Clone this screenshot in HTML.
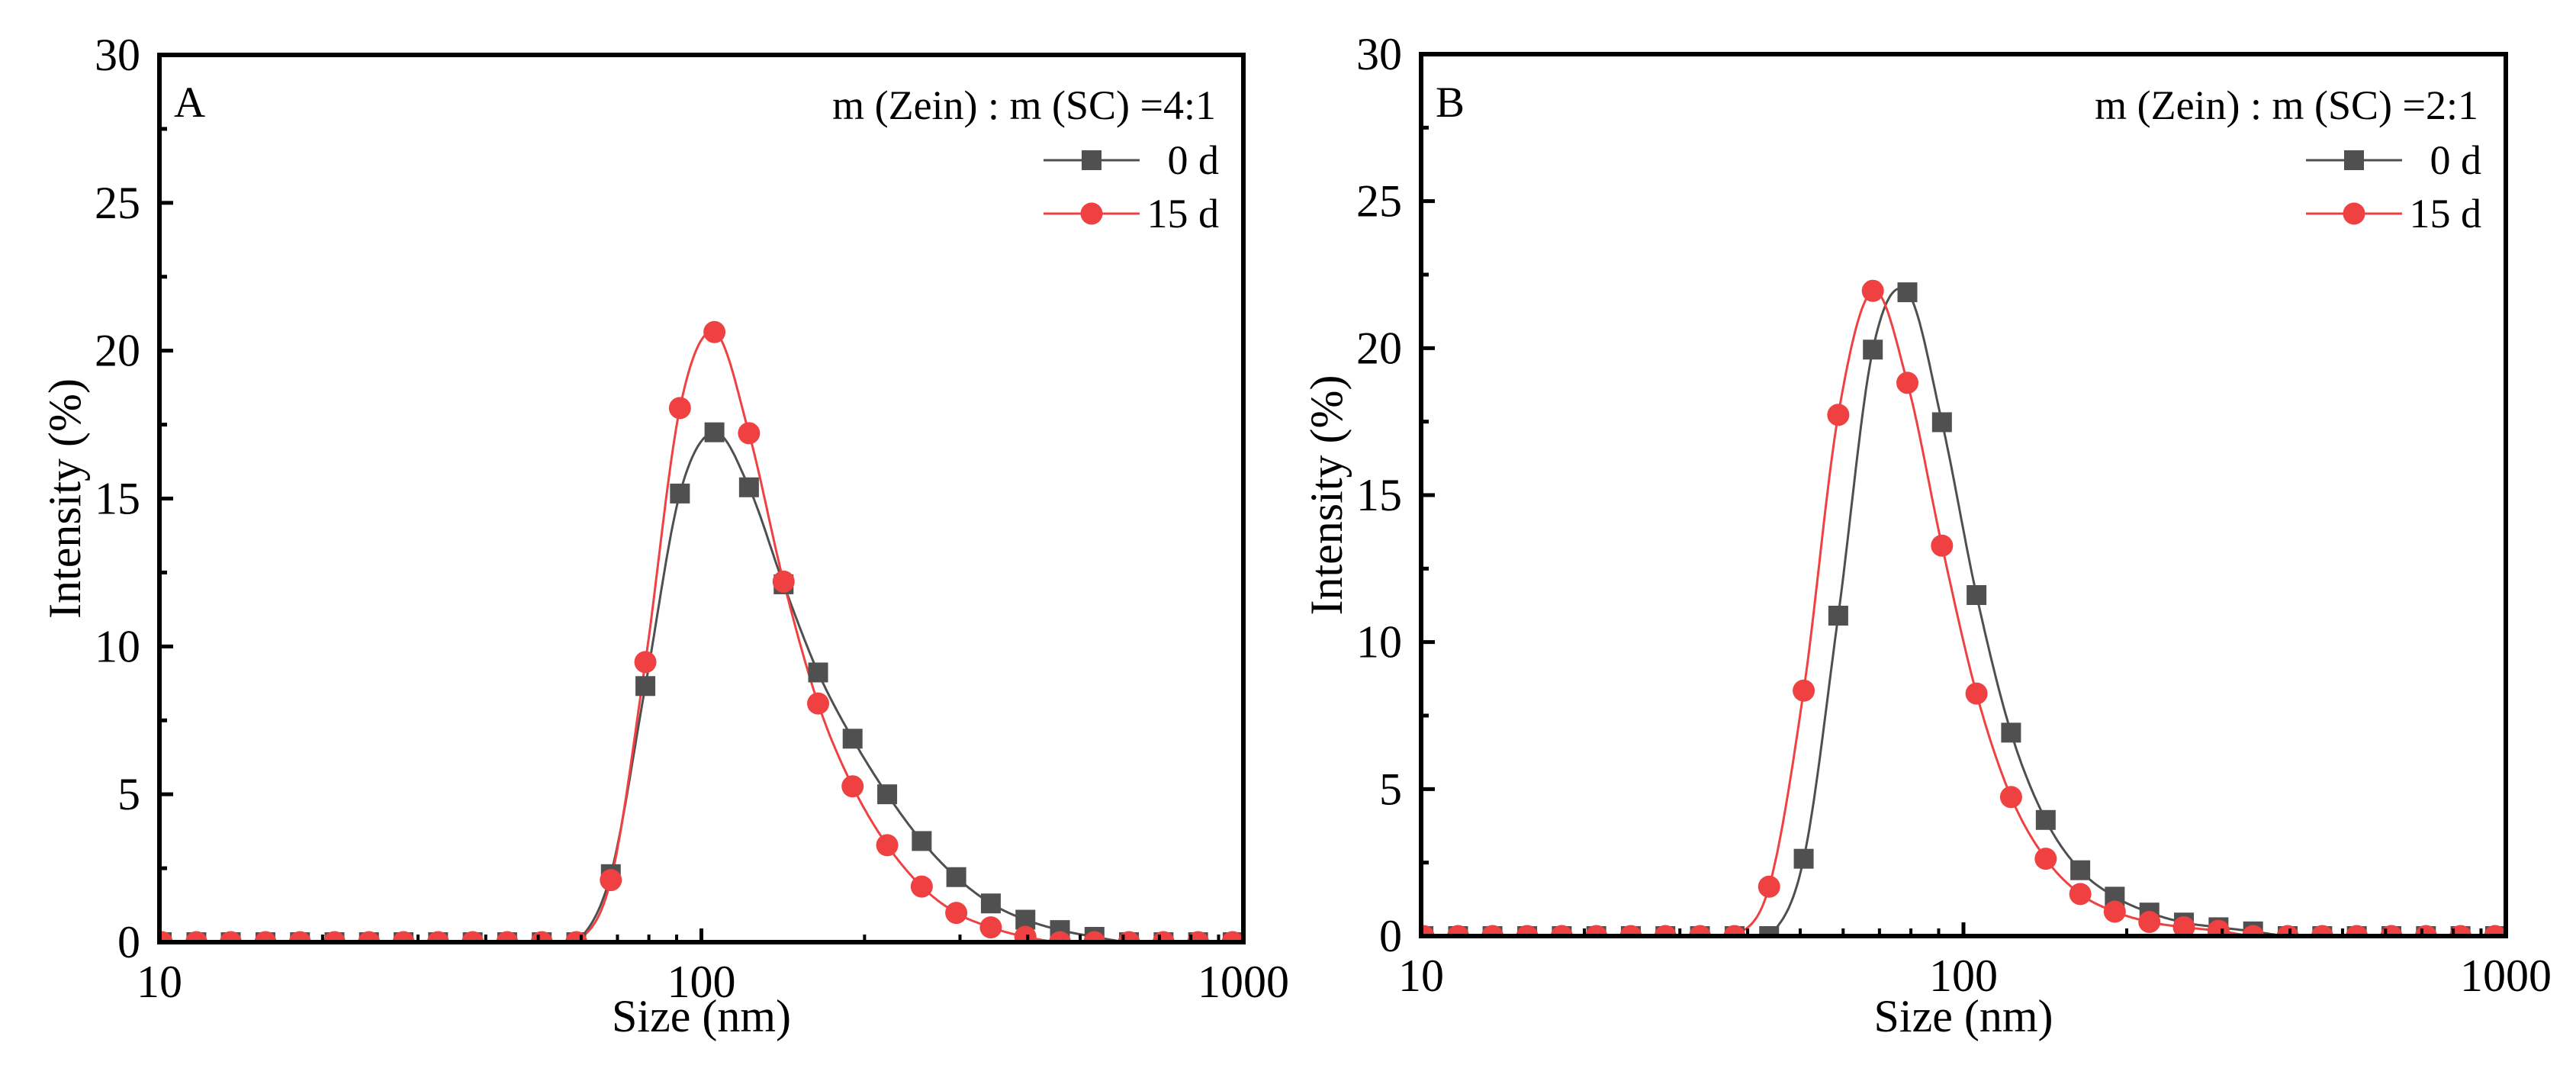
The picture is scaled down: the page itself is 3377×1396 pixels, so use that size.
<!DOCTYPE html>
<html><head><meta charset="utf-8"><style>
html,body{margin:0;padding:0;background:#fff;}
svg{display:block;font-family:"Liberation Serif","Times New Roman",serif;}
</style></head><body>
<svg id="fig" width="3377" height="1396" viewBox="0 0 3377 1396" xmlns="http://www.w3.org/2000/svg"></svg>
<script>
const sizes = [10.1,11.7,13.54,15.69,18.17,21.04,24.36,28.21,32.67,37.84,43.82,50.75,58.77,68.06,78.82,91.28,105.7,122.4,141.8,164.2,190.1,220.2,255.0,295.3,342.0,396.1,458.7,531.2,615.1,712.4,825.0,955.4];
const a0d  = [0,0,0,0,0,0,0,0,0,0,0,0,0,2.3,8.66,15.17,17.24,15.38,12.1,9.12,6.88,5.0,3.42,2.2,1.31,0.76,0.41,0.18,0,0,0,0];
const a15d = [0,0,0,0,0,0,0,0,0,0,0,0,0,2.1,9.47,18.06,20.63,17.21,12.19,8.07,5.27,3.28,1.88,0.99,0.5,0.18,0,0,0,0,0,0];
const b0d  = [0,0,0,0,0,0,0,0,0,0,0,2.63,10.9,19.95,21.9,17.48,11.6,6.92,3.95,2.24,1.34,0.8,0.46,0.3,0.16,0,0,0,0,0,0,0];
const b15d = [0,0,0,0,0,0,0,0,0,0,1.68,8.35,17.73,21.95,18.82,13.28,8.25,4.73,2.63,1.43,0.83,0.48,0.3,0.18,0,0,0,0,0,0,0,0];
const yTicks = [0,5,10,15,20,25,30];
const xTicks = [10,100,1000];

const NS="http://www.w3.org/2000/svg";
const svg=document.getElementById('fig');
function el(tag,attrs,parent){const e=document.createElementNS(NS,tag);for(const k in attrs)e.setAttribute(k,attrs[k]);(parent||svg).appendChild(e);return e;}

function panel(id,L,R,T,B,letter,ratio,s0,s15){
  const g=el('g',{});
  
  
  const xs=v=>L+(Math.log10(v)-1)/2*(R-L);
  const ys=v=>B-v/30*(B-T);
  const cp=el('clipPath',{id:'clip'+id},g);
  el('rect',{x:L,y:T,width:R-L,height:B-T},cp);
  // curves
  function curve(vals,color,name){
    const pts=sizes.map((s,i)=>[Math.log10(s),vals[i]]);
    let d='';
    for(let i=0;i<pts.length-1;i++){
      const p0=pts[Math.max(0,i-1)],p1=pts[i],p2=pts[i+1],p3=pts[Math.min(pts.length-1,i+2)];
      for(let t=0;t<=1;t+=0.05){
        const t2=t*t,t3=t2*t;
        const f=(a,b,c,dd)=>0.5*((2*b)+(-a+c)*t+(2*a-5*b+4*c-dd)*t2+(-a+3*b-3*c+dd)*t3);
        const lx=f(p0[0],p1[0],p2[0],p3[0]);let v=f(p0[1],p1[1],p2[1],p3[1]);if(v<0)v=0;
        const X=L+(lx-1)/2*(R-L),Y=ys(v);
        d+=(d?'L':'M')+X.toFixed(1)+','+Y.toFixed(1);
      }
    }
    const p=el('path',{d:d,fill:'none',stroke:color,'stroke-width':3,'clip-path':'url(#clip'+id+')'},g);
    
    
  }
  curve(s0,'#4f4f4f','series-0d');
  curve(s15,'#ef4141','series-15d');
  const mg=el('g',{'clip-path':'url(#clip'+id+')'},g);
  sizes.forEach((s,i)=>{
    const r=el('rect',{x:xs(s)-13,y:ys(s0[i])-13,width:26,height:26,fill:'#505050'},mg);
    
    
  });
  sizes.forEach((s,i)=>{
    const c=el('circle',{cx:xs(s),cy:ys(s15[i]),r:14.5,fill:'#ef4141'},mg);
    
    
  });
  // frame
  const fr=el('rect',{x:L,y:T,width:R-L,height:B-T,fill:'none',stroke:'#000','stroke-width':6},g);
  
  
  // y ticks
  for(let v=0;v<=30;v+=2.5){
    const major=v%5===0;
    el('line',{x1:L,x2:L+(major?18:10),y1:ys(v),y2:ys(v),stroke:'#000','stroke-width':5},g);
  }
  yTicks.forEach(v=>{
    const t=el('text',{x:L-25,y:ys(v)+20,'text-anchor':'end','font-size':60},g);
    t.textContent=v;
    
    
  });
  // x ticks
  for(let dec=10;dec<1000;dec*=10){
    for(let m=1;m<10;m++){
      const v=dec*m;const X=xs(v);
      if(m===1){ if(v>10) el('line',{x1:X,x2:X,y1:B,y2:B-18,stroke:'#000','stroke-width':5},g);}
      else el('line',{x1:X,x2:X,y1:B,y2:B-10,stroke:'#000','stroke-width':4},g);
    }
  }
  xTicks.forEach(v=>{
    const t=el('text',{x:xs(v),y:B+72,'text-anchor':'middle','font-size':60},g);
    t.textContent=v;
    
    
  });
  const xt=el('text',{x:(L+R)/2,y:1352,'text-anchor':'middle','font-size':60},g);
  xt.textContent='Size (nm)';
  
  
  const cy=(T+B)/2,cx=L-124;
  const yt=el('text',{x:cx,y:cy,'text-anchor':'middle','dominant-baseline':'central','font-size':60,transform:'rotate(-90 '+cx+' '+cy+')'},g);
  yt.textContent='Intensity (%)';
  
  
  const pl=el('text',{x:L+19,y:153,'font-size':57},g);
  pl.textContent=letter;
  
  
  // legend
  const lg=el('g',{},g);
  
  
  const ti=el('text',{x:R-36,y:156,'text-anchor':'end','font-size':54},lg);
  ti.textContent='m (Zein) : m (SC) ='+ratio;
  
  
  const l1=el('line',{x1:R-262,x2:R-136,y1:210,y2:210,stroke:'#4f4f4f','stroke-width':3},lg);
  el('rect',{x:R-212,y:197,width:26,height:26,fill:'#505050'},lg);
  const t1=el('text',{x:R-32,y:228,'text-anchor':'end','font-size':54},lg);
  t1.textContent='0 d';
  
  
  el('line',{x1:R-262,x2:R-136,y1:280,y2:280,stroke:'#ef4141','stroke-width':3},lg);
  el('circle',{cx:R-199,cy:280,r:14.5,fill:'#ef4141'},lg);
  const t2=el('text',{x:R-32,y:298,'text-anchor':'end','font-size':54},lg);
  t2.textContent='15 d';
  
  
}
panel('a',209,1630,72,1235,'A','4:1',a0d,a15d);
panel('b',1863,3285,71,1227,'B','2:1',b0d,b15d);
</script>
</body></html>
